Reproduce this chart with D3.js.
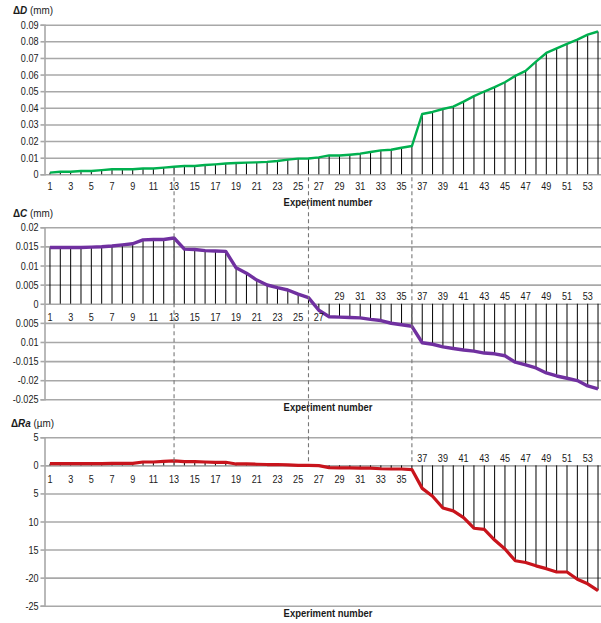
<!DOCTYPE html>
<html><head><meta charset="utf-8">
<script src="https://cdn.jsdelivr.net/npm/d3@7"></script>
<style>
html,body{margin:0;padding:0;background:#fff;}
svg{display:block;}
text{font-family:"Liberation Sans",Arial,sans-serif;fill:#1a1a1a;}
</style></head>
<body>
<script>
const experiments = [1,2,3,4,5,6,7,8,9,10,11,12,13,14,15,16,17,18,19,20,21,22,23,24,25,26,27,28,29,30,31,32,33,34,35,36,37,38,39,40,41,42,43,44,45,46,47,48,49,50,51,52,53,54];

const deltaD = [0.001,0.0015,0.0015,0.002,0.002,0.0025,0.003,0.003,0.003,0.0035,0.0035,0.004,0.0045,0.005,0.005,0.0056,0.006,0.0065,0.0068,0.007,0.0072,0.0075,0.008,0.0088,0.0094,0.0095,0.0102,0.0114,0.0113,0.0118,0.0124,0.0134,0.0144,0.0148,0.016,0.017,0.0363,0.0375,0.0393,0.0407,0.0437,0.047,0.0498,0.0524,0.0554,0.0592,0.0622,0.0678,0.073,0.0757,0.0785,0.081,0.084,0.0859];

const deltaC = [0.0147,0.0147,0.0147,0.0147,0.0148,0.0149,0.0151,0.0154,0.0157,0.0167,0.0168,0.0168,0.0172,0.0143,0.0142,0.0139,0.0138,0.0137,0.0094,0.008,0.0062,0.0049,0.0042,0.0036,0.0025,0.0016,-0.0017,-0.0034,-0.0035,-0.0036,-0.0037,-0.0041,-0.0044,-0.0051,-0.0055,-0.0059,-0.0102,-0.0106,-0.0113,-0.0117,-0.0121,-0.0124,-0.0129,-0.0131,-0.0136,-0.0153,-0.016,-0.0168,-0.0181,-0.0189,-0.0195,-0.0201,-0.0215,-0.0223];

const deltaRa = [0.3,0.3,0.3,0.3,0.3,0.3,0.35,0.35,0.35,0.6,0.6,0.7,0.8,0.65,0.65,0.6,0.55,0.55,0.25,0.25,0.2,0.15,0.15,0.1,0,0,-0.05,-0.4,-0.45,-0.45,-0.5,-0.5,-0.6,-0.65,-0.65,-0.75,-4.1,-5.5,-7.6,-8.1,-9.3,-11.2,-11.4,-13.3,-14.9,-17.0,-17.3,-17.9,-18.4,-19.0,-19.0,-20.3,-21.1,-22.3];

const ticksD = [0,0.01,0.02,0.03,0.04,0.05,0.06,0.07,0.08,0.09];
const tickLabelsD = ["0","0.01","0.02","0.03","0.04","0.05","0.06","0.07","0.08","0.09"];
const ticksC = [0.02,0.015,0.01,0.005,0,-0.005,-0.01,-0.015,-0.02,-0.025];
const tickLabelsC = ["0.02","0.015","0.01","0.005","0","0.005","0.01","-0.015","-0.02","-0.025"];
const ticksRa = [5,0,-5,-10,-15,-20,-25];
const tickLabelsRa = ["5","0","5","10","15","-20","-25"];

const xLabelsD = [1,3,5,7,9,11,13,15,17,19,21,23,25,27,29,31,33,35,37,39,41,43,45,47,49,51,53];
const xLabelsCBelow = [1,3,5,7,9,11,13,15,17,19,21,23,25,27];
const xLabelsCAbove = [29,31,33,35,37,39,41,43,45,47,49,51,53];
const xLabelsRaBelow = [1,3,5,7,9,11,13,15,17,19,21,23,25,27,29,31,33,35];
const xLabelsRaAbove = [37,39,41,43,45,47,49,51,53];
const markerExperiments = [13,26,36];
const xTitle = "Experiment number";

const W = 601, H = 623;
const SX = 0.84; // horizontal condensing to mimic a narrow font
const svg = d3.select("body").append("svg").attr("width",W).attr("height",H);

const x = d3.scaleBand().domain(experiments).range([44.8, 603.2]).padding(0);
const cx = e => x(e) + x.bandwidth()/2;
const axisX = 44.5, rightX = 601;
const gridColor = "#a8a8a8";

function ntext(sel, px, py){
  return sel.attr("transform",(d,i)=>`translate(${px(d,i)},${py(d,i)}) scale(${SX},1)`);
}

function panel(cfg){
  const y = d3.scaleLinear().domain(cfg.domain).range(cfg.range);
  const g = svg.append("g");
  // gridlines via axis
  const ax = d3.axisLeft(y).tickValues(cfg.ticks).tickSize(-(rightX-axisX)).tickFormat("");
  const ag = g.append("g").attr("transform",`translate(${axisX},0)`).call(ax);
  ag.select(".domain").remove();
  ag.selectAll(".tick line").attr("stroke",gridColor).attr("stroke-width",1.6);
  ag.selectAll(".tick text").remove();
  // left tick marks + axis line
  const ax2 = d3.axisLeft(y).tickValues(cfg.ticks).tickSize(4).tickFormat("");
  const ag2 = g.append("g").attr("transform",`translate(${axisX},0)`).call(ax2);
  ag2.select(".domain").attr("stroke",gridColor).attr("stroke-width",1.6);
  ag2.selectAll(".tick line").attr("stroke",gridColor).attr("stroke-width",1.6);
  ag2.selectAll(".tick text").remove();
  // tick labels
  ntext(g.append("g").selectAll("text").data(cfg.ticks).join("text")
    .attr("text-anchor","end").attr("font-size","10.8px").text((d,i)=>cfg.tickLabels[i]),
    d=>38.5, d=>y(d)+4);
  // drop lines
  g.append("g").selectAll("line").data(cfg.values).join("line")
    .attr("x1",(d,i)=>cx(experiments[i])).attr("x2",(d,i)=>cx(experiments[i]))
    .attr("y1",d=>y(d)).attr("y2",y(0))
    .attr("stroke","#000").attr("stroke-width",1);
  // line
  const line = d3.line().x((d,i)=>cx(experiments[i])).y(d=>y(d));
  g.append("path").datum(cfg.values).attr("d",line).attr("fill","none")
    .attr("stroke",cfg.color).attr("stroke-width",cfg.lw).attr("stroke-linejoin","round");
  // x labels
  cfg.xlabels.forEach(([arr,base])=>{
    ntext(g.append("g").selectAll("text").data(arr).join("text")
      .attr("text-anchor","middle").attr("font-size","10.8px").text(d=>d),
      d=>cx(d), d=>base);
  });
  // x title
  g.append("text").attr("transform",`translate(328,${cfg.xTitleY}) scale(0.86,1)`).attr("text-anchor","middle")
    .attr("font-size","11px").attr("font-weight","bold").text(xTitle);
  // y title
  const t = g.append("text").attr("transform",`translate(${cfg.titleX},${cfg.titleY}) scale(0.9,1)`).attr("font-size","11px");
  t.append("tspan").attr("font-weight","bold").text("Δ");
  t.append("tspan").attr("font-weight","bold").attr("font-style","italic").text(cfg.sym);
  t.append("tspan").text(" " + cfg.unit);
  return y;
}

const yD = panel({domain:[0,0.09], range:[174.3,24.7], ticks:ticksD, tickLabels:tickLabelsD,
  values:deltaD, color:"#00b04f", lw:2.4,
  xlabels:[[xLabelsD,190]], xTitleY:206, titleX:13, titleY:14, sym:"D", unit:"(mm)"});

const yC = panel({domain:[0.02,-0.025], range:[227.3,399.3], ticks:ticksC, tickLabels:tickLabelsC,
  values:deltaC, color:"#7030a0", lw:3.4,
  xlabels:[[xLabelsCBelow,320.5],[xLabelsCAbove,299.5]], xTitleY:411, titleX:13, titleY:217, sym:"C", unit:"(mm)"});

const yR = panel({domain:[5,-25], range:[437.3,605.7], ticks:ticksRa, tickLabels:tickLabelsRa,
  values:deltaRa, color:"#c8141c", lw:3.2,
  xlabels:[[xLabelsRaBelow,483],[xLabelsRaAbove,461.5]], xTitleY:617, titleX:11, titleY:427, sym:"Ra", unit:"(µm)"});

// dashed marker lines
svg.append("g").selectAll("line").data(markerExperiments).join("line")
  .attr("x1",d=>cx(d)).attr("x2",d=>cx(d))
  .attr("y1",yD(0)+3).attr("y2",yR(0)-3)
  .attr("stroke","#777").attr("stroke-width",1.1).attr("stroke-dasharray","4,3");
</script>
</body></html>
